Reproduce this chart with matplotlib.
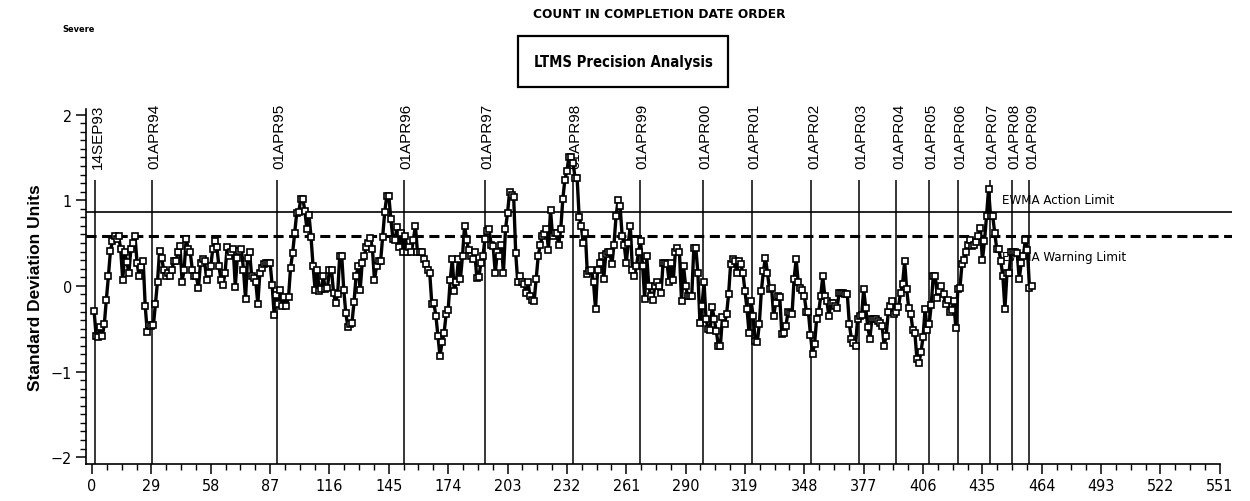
import numpy as np
import matplotlib.pyplot as plt
from matplotlib import font_manager
from matplotlib.patches import Rectangle
from matplotlib.ticker import MultipleLocator

# look for a condensed face (SAS output uses a narrow swiss font)
cands = {}
for f in font_manager.fontManager.ttflist:
    if f.stretch in ('condensed', 'semi-condensed', 'extra-condensed') or 'Narrow' in f.name:
        cands.setdefault(f.name, f.stretch)
pref = ['Liberation Sans Narrow', 'DejaVu Sans', 'Noto Sans', 'Roboto', 'Open Sans', 'Lato', 'Inter']
cond = next((n for n in pref if n in cands), next(iter(cands), None))
if cond is None:
    cond, stretch = 'Liberation Sans', 'normal'
else:
    stretch = cands[cond]
wide = 'Liberation Sans'

# EWMA values in completion-date order (standard deviation units)
ewma = [
    -0.29, -0.58, -0.60, -0.48, -0.59, -0.45, -0.16, 0.11, 0.41, 0.52,
    0.58, 0.55, 0.58, 0.43, 0.07, 0.39, 0.28, 0.15, 0.43, 0.50,
    0.58, 0.27, 0.11, 0.22, 0.29, -0.24, -0.54, -0.46, -0.47, -0.46,
    -0.21, 0.05, 0.41, 0.33, 0.19, 0.11, 0.15, 0.11, 0.19, 0.29,
    0.29, 0.39, 0.47, 0.05, 0.19, 0.55, 0.43, 0.39, 0.19, 0.11,
    0.11, -0.03, 0.27, 0.31, 0.29, 0.07, 0.15, 0.23, 0.43, 0.52,
    0.45, 0.23, 0.07, 0.01, 0.15, 0.45, 0.35, 0.39, 0.43, -0.01,
    0.33, 0.41, 0.43, 0.19, -0.15, 0.33, 0.39, 0.11, 0.09, 0.05,
    -0.21, 0.15, 0.21, 0.25, 0.27, 0.27, 0.27, 0.01, -0.34, -0.11,
    -0.21, -0.05, -0.23, -0.13, -0.23, -0.13, 0.21, 0.38, 0.62, 0.85,
    0.86, 1.02, 1.02, 0.87, 0.66, 0.83, 0.57, 0.23, -0.05, 0.19,
    -0.06, -0.04, 0.11, -0.04, -0.03, 0.19, 0.19, -0.08, -0.20, -0.10,
    0.35, 0.35, -0.05, -0.32, -0.48, -0.45, -0.43, -0.19, 0.11, 0.23,
    -0.05, 0.27, 0.35, 0.45, 0.50, 0.56, 0.43, 0.07, 0.23, 0.29,
    0.29, 0.57, 0.86, 1.05, 1.05, 0.78, 0.55, 0.53, 0.69, 0.45,
    0.62, 0.40,
    0.58, 0.40, 0.45, 0.39, 0.54, 0.70, 0.39, 0.40, 0.39, 0.31,
    0.25, 0.19, 0.15, -0.21, -0.20, -0.35, -0.59, -0.82, -0.66, -0.55,
    -0.33, -0.28, 0.07, 0.31, -0.06, 0.04, 0.31, 0.08, 0.35, 0.70,
    0.54, 0.42, 0.35, 0.31, 0.39, 0.09, 0.10, 0.27, 0.35, 0.55,
    0.64, 0.66, 0.48, 0.46, 0.15, 0.39, 0.35, 0.48, 0.15, 0.66,
    0.85, 1.10, 1.06, 1.04, 0.38, 0.04, 0.11, 0.05, 0.02, -0.08,
    0.04, -0.12, -0.17, -0.18, 0.08, 0.35, 0.48, 0.58, 0.60, 0.66,
    0.42, 0.89, 0.58, 0.62, 0.62, 0.48, 0.66, 1.01, 1.24, 1.34,
    1.51, 1.50, 1.44, 1.26, 1.26, 0.80, 0.70, 0.50, 0.62, 0.14,
    0.17, 0.19, 0.04, -0.27, 0.19, 0.27, 0.35, 0.08, 0.37, 0.39,
    0.39, 0.25, 0.48, 0.81, 1.00, 0.93, 0.58, 0.48, 0.27, 0.50,
    0.70, 0.19, 0.11, 0.23, 0.40, 0.52, 0.23, -0.15, 0.35, 0.00,
    -0.12, -0.16, 0.00, 0.04, 0.00, -0.08, 0.27, 0.27, 0.25, 0.04,
    0.27, 0.07, 0.40, 0.44, 0.39, -0.18, 0.23, 0.00, -0.12, -0.12,
    -0.12, 0.44, 0.44, 0.15, -0.43, -0.23, 0.04, -0.39, -0.50, -0.51,
    -0.25, -0.39, -0.53, -0.70,
    -0.70, -0.36, -0.44, -0.33, -0.10, 0.26, 0.31, 0.29, 0.15, 0.29,
    0.25, 0.15, -0.06, -0.27, -0.55, -0.18, -0.35, -0.64, -0.66, -0.45,
    -0.06, 0.17, 0.33, 0.15, -0.04, -0.02, -0.35, -0.20, -0.12, -0.13,
    -0.56, -0.55, -0.47, -0.31, -0.32, -0.33, 0.08, 0.31, 0.05, -0.02,
    -0.05, -0.12, -0.30, -0.31, -0.57, -0.79, -0.68, -0.39, -0.31, -0.12,
    0.11, -0.12, -0.18, -0.35, -0.20, -0.20, -0.24, -0.26, -0.08, -0.08,
    -0.08, -0.09, -0.10, -0.45, -0.62, -0.67, -0.70, -0.39, -0.35, -0.34,
    -0.04, -0.26, -0.48, -0.62, -0.39, -0.39, -0.39, -0.41, -0.43, -0.47,
    -0.70, -0.58, -0.31, -0.24, -0.18, -0.33, -0.30, -0.25, -0.08, 0.02,
    0.29, -0.04, -0.26, -0.33, -0.51, -0.55, -0.85, -0.90, -0.77, -0.60,
    -0.27, -0.51, -0.45, -0.22, 0.12, 0.12, -0.14, -0.06, 0.00, -0.10,
    -0.21, -0.16, -0.31, -0.28, -0.18, -0.49, -0.04, -0.03, 0.25, 0.30,
    0.39, 0.48, 0.54, 0.46, 0.48, 0.51, 0.58, 0.68, 0.30, 0.52,
    0.81, 1.13, 0.81, 0.82, 0.62, 0.43, 0.43, 0.29, 0.11, -0.27,
    0.15, 0.15, 0.40, 0.40, 0.40, 0.38, 0.08, 0.27, 0.35, 0.54,
    0.42, -0.02, 0.00,
]
test_no = np.arange(1, len(ewma) + 1)

date_labels = ['14SEP93', '01APR94', '01APR95', '01APR96', '01APR97', '01APR98',
               '01APR99', '01APR00', '01APR01', '01APR02', '01APR03', '01APR04',
               '01APR05', '01APR06', '01APR07', '01APR08', '01APR09']
date_pos = [1.5, 29.5, 90.5, 152.5, 192, 235, 267.5, 298.5, 322.5, 351.5,
            374.5, 393, 409, 423, 438.5, 449.5, 458]

action_limit = 0.86
warning_limit = 0.58

plt.rcParams['font.family'] = [cond, 'DejaVu Sans']
plt.rcParams['font.stretch'] = stretch

fig = plt.figure(figsize=(12.5, 5.02), dpi=100)
ax = fig.add_axes([0.0687, 0.0737, 0.917, 0.7063])
ax.set_xlim(-3, 557)
ax.set_ylim(-2.08, 2.06)

ax.axhline(action_limit, color='black', lw=1.2, zorder=2)
ax.axhline(warning_limit, color='black', lw=2.2, dashes=(3.3, 1.8), zorder=2)
ax.vlines(date_pos, -2.08, 1.24, color='black', lw=1.1, zorder=2)

for x, lab in zip(date_pos, date_labels):
    ax.text(x + 1.2, 1.38, lab, rotation=90, ha='center', va='bottom',
            fontsize=11, family=wide, fontstretch='normal', clip_on=False)

t_act = ax.text(444.6, 1.01, 'EWMA Action Limit', ha='left', va='center',
                fontsize=11, zorder=1)
t_warn = ax.text(444.6, 0.344, 'EWMA Warning Limit', ha='left', va='center',
                 fontsize=11, zorder=1)

ax.plot(test_no, ewma, color='black', lw=2.4, marker='s', ms=4.8,
        mfc='white', mec='black', mew=1.2, zorder=3)

for side in ['top', 'right']:
    ax.spines[side].set_visible(False)
ax.spines['left'].set_linewidth(1.2)
ax.spines['bottom'].set_linewidth(1.2)
ax.spines['bottom'].set_bounds(-3, 551)

ax.set_xticks(np.arange(0, 552, 29))
ax.xaxis.set_minor_locator(MultipleLocator(7.25))
ax.yaxis.set_major_locator(MultipleLocator(1))
ax.yaxis.set_minor_locator(MultipleLocator(0.1))
ax.tick_params(which='major', direction='out', length=7, width=1.1, pad=3,
               labelsize=11.5)
ax.tick_params(which='minor', direction='out', length=4, width=1.0)

ax.set_ylabel('Standard Deviation Units', fontsize=12.5, fontweight='bold',
              family=wide, fontstretch='normal')
ax.yaxis.set_label_coords(-0.037, 0.5)

t_title = fig.text(659 / 1250, 1 - 15 / 502, 'COUNT IN COMPLETION DATE ORDER',
                   ha='center', va='center', fontsize=11, fontweight='bold')
t_sev = fig.text(62 / 1250, 1 - 30 / 502, 'Severe', ha='left', va='center',
                 fontsize=8, fontweight='bold')
fig.add_artist(Rectangle((518 / 1250, 1 - 88 / 502), 210 / 1250, 51 / 502,
                         transform=fig.transFigure, fill=False, lw=1.6, color='black'))
t_box = fig.text(623 / 1250, 1 - 63 / 502, 'LTMS Precision Analysis', ha='center',
                 va='center', fontsize=12, fontweight='bold')

# scale these texts near the widths they take in the original
# (a little wider, since no face is as narrow as the SAS one)
renderer = fig.canvas.get_renderer()
for t, px in [(t_title, 250), (t_sev, 32), (t_box, 178), (t_act, 112), (t_warn, 124)]:
    w = t.get_window_extent(renderer).width
    t.set_fontsize(t.get_fontsize() * px / w)

fig.savefig('out.png', dpi=100)
